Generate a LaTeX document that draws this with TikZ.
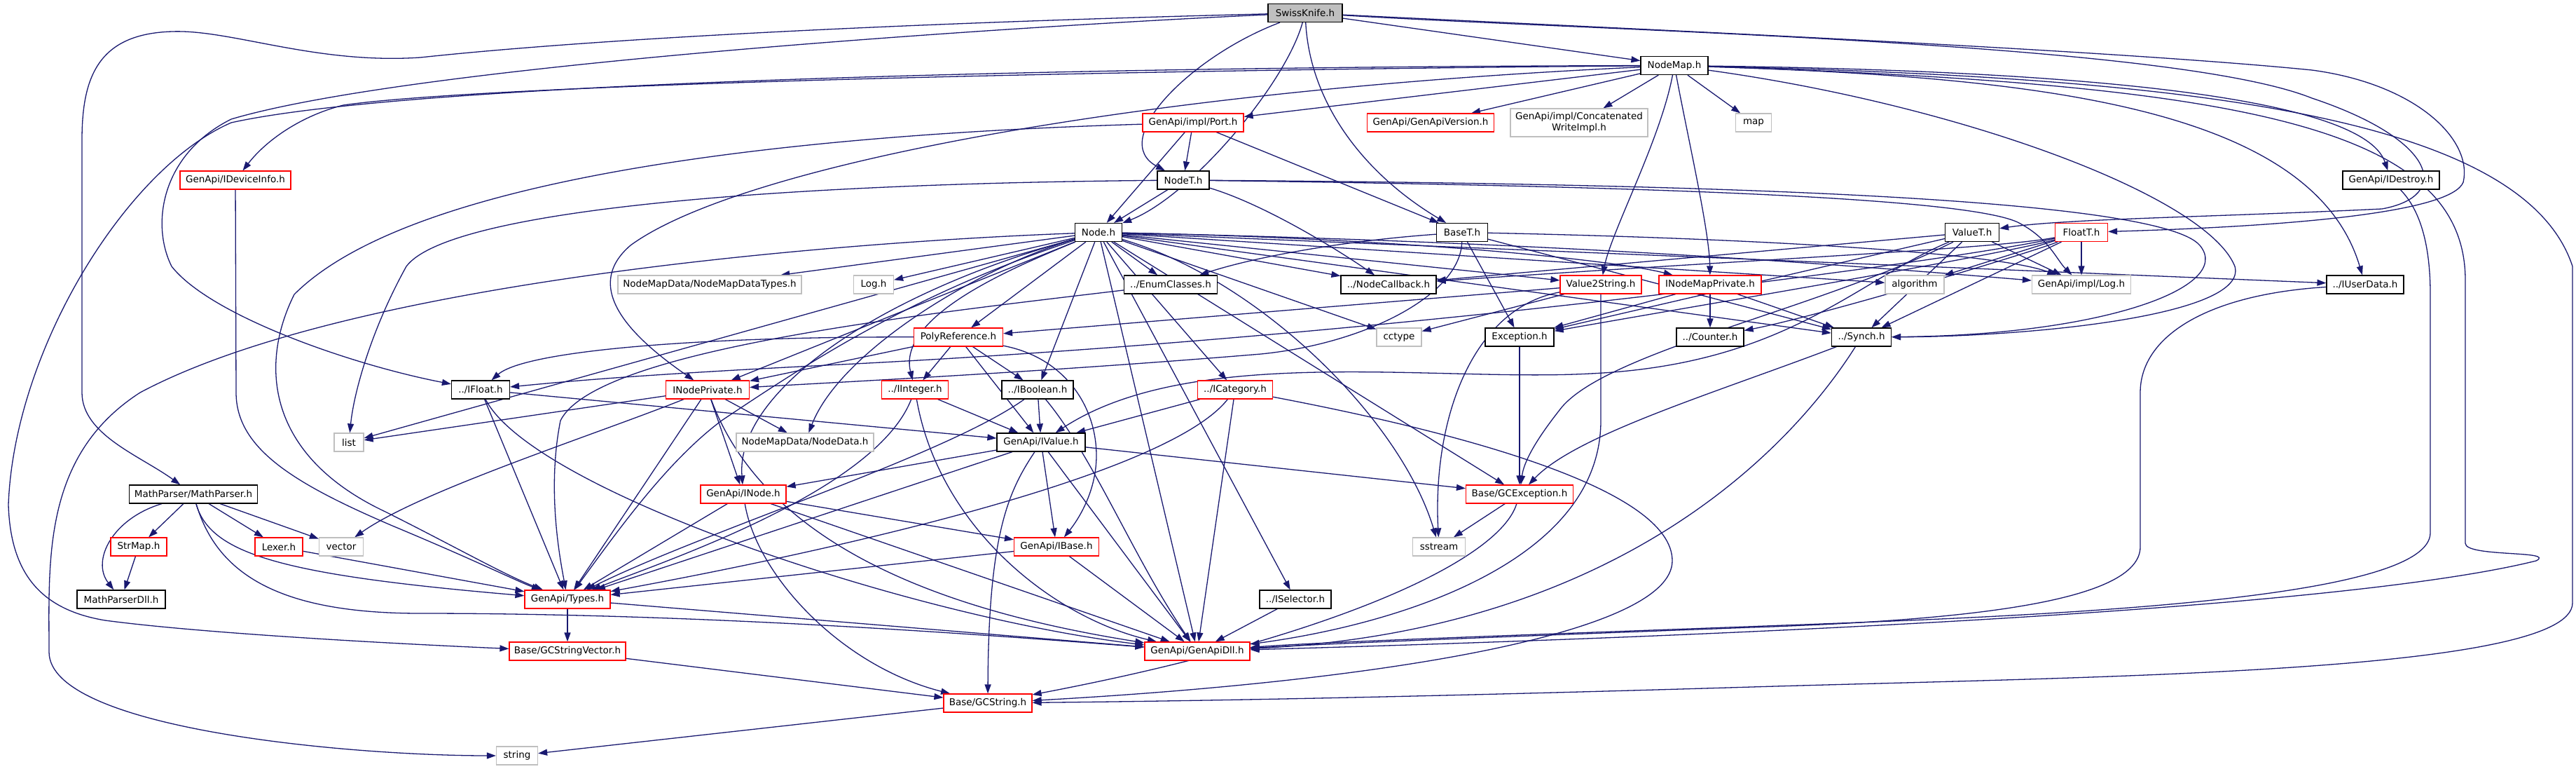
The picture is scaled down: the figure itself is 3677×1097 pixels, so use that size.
\documentclass[tikz,border=0pt]{standalone}
\usepackage{fontspec}
\setmainfont{DejaVu Sans}
\usetikzlibrary{arrows.meta}
\definecolor{edgec}{HTML}{191970}
\definecolor{lgray}{HTML}{BFBFBF}
\pgfdeclarelayer{bg}
\pgfsetlayers{bg,main}
\begin{document}
\begin{tikzpicture}[x=1pt,y=-1pt,
  box/.style={draw=black, line width=1.2pt, fill=white, minimum height=26pt, inner sep=3pt, font=\fontsize{13.5}{15.5}\selectfont},
  rbox/.style={box, draw=red},
  gbox/.style={box, draw=lgray},
  e/.style={draw=edgec, line width=1.3pt, -{Triangle[length=13pt,width=9pt]}}]
\useasboundingbox (0,0) rectangle (3677,1097);
% nodes
\node[box, fill=lgray, minimum width=106pt] (SK) at (1863,18.5) {SwissKnife.h};
\node[box, minimum width=96pt] (NM) at (2390,93.5) {NodeMap.h};
\node[rbox, minimum width=158pt] (IDI) at (336,257) {GenApi/IDeviceInfo.h};
\node[rbox, minimum width=144pt] (Port) at (1703,175) {GenApi/impl/Port.h};
\node[rbox, minimum width=181pt] (GAV) at (2042,175) {GenApi/GenApiVersion.h};
\node[gbox, minimum width=196pt, minimum height=40pt, align=center] (CWI) at (2254,175) {GenApi/impl/Concatenated\\WriteImpl.h};
\node[gbox, minimum width=51pt] (map) at (2503,175) {map};
\node[box, minimum width=74pt] (NodeT) at (1689,257) {NodeT.h};
\node[box, minimum width=138pt] (IDes) at (3413,257) {GenApi/IDestroy.h};
\node[box, minimum width=67pt] (Node) at (1568,331.5) {Node.h};
\node[box, minimum width=73pt] (BaseT) at (2087,331.5) {BaseT.h};
\node[box, minimum width=77pt] (ValueT) at (2815,331.5) {ValueT.h};
\node[rbox, minimum width=75pt] (FloatT) at (2971,331.5) {FloatT.h};
\node[gbox, minimum width=262pt] (NMDT) at (1013,406) {NodeMapData/NodeMapDataTypes.h};
\node[gbox, minimum width=57pt] (LogH) at (1247,406) {Log.h};
\node[box, minimum width=133pt] (Enum) at (1671,406) {../EnumClasses.h};
\node[box, minimum width=136pt] (NCB) at (1982,406) {../NodeCallback.h};
\node[rbox, minimum width=116pt] (V2S) at (2285,406) {Value2String.h};
\node[rbox, minimum width=146pt] (INMP) at (2441,406) {INodeMapPrivate.h};
\node[gbox, minimum width=84pt] (Algo) at (2733,406) {algorithm};
\node[gbox, minimum width=141pt] (ILog) at (2971,406) {GenApi/impl/Log.h};
\node[box, minimum width=110pt] (IUD) at (3376,406) {../IUserData.h};
\node[rbox, minimum width=127pt] (Poly) at (1368,481) {PolyReference.h};
\node[gbox, minimum width=64pt] (cctype) at (1997,481) {cctype};
\node[box, minimum width=98pt] (Exc) at (2169,481) {Exception.h};
\node[box, minimum width=96pt] (Cnt) at (2441,481) {../Counter.h};
\node[box, minimum width=85pt] (Synch) at (2657,481) {../Synch.h};
\node[box, minimum width=83pt] (IFloat) at (686,556) {../IFloat.h};
\node[rbox, minimum width=119pt] (INP) at (1010,556) {INodePrivate.h};
\node[rbox, minimum width=95pt] (IInt) at (1306,556) {../IInteger.h};
\node[box, minimum width=102pt] (IBool) at (1481,556) {../IBoolean.h};
\node[rbox, minimum width=107pt] (ICat) at (1763,556) {../ICategory.h};
\node[gbox, minimum width=42pt] (list) at (498,631) {list};
\node[gbox, minimum width=196pt] (NData) at (1149,631) {NodeMapData/NodeData.h};
\node[box, minimum width=126pt] (IValue) at (1486,631) {GenApi/IValue.h};
\node[box, minimum width=183pt] (MP) at (276,705) {MathParser/MathParser.h};
\node[rbox, minimum width=122pt] (INode) at (1061,705) {GenApi/INode.h};
\node[rbox, minimum width=153pt] (GCE) at (2169,705) {Base/GCException.h};
\node[rbox, minimum width=80pt] (StrMap) at (198,780) {StrMap.h};
\node[rbox, minimum width=68pt] (Lexer) at (398,780) {Lexer.h};
\node[gbox, minimum width=63pt] (vector) at (487,780) {vector};
\node[rbox, minimum width=121pt] (IBase) at (1508,780) {GenApi/IBase.h};
\node[gbox, minimum width=75pt] (sstream) at (2054,780) {sstream};
\node[box, minimum width=126pt] (MPDll) at (173,855) {MathParserDll.h};
\node[rbox, minimum width=122pt] (Types) at (810,855) {GenApi/Types.h};
\node[box, minimum width=102pt] (ISel) at (1849,855) {../ISelector.h};
\node[rbox, minimum width=166pt] (GCSV) at (810,929) {Base/GCStringVector.h};
\node[rbox, minimum width=150pt] (Dll) at (1709,929) {GenApi/GenApiDll.h};
\node[rbox, minimum width=126pt] (GCS) at (1410,1003) {Base/GCString.h};
\node[gbox, minimum width=59pt] (string) at (738,1078) {string};
% edges
\begin{pgfonlayer}{bg}
\fill[white] (0,0) rectangle (3677,1097);
% SwissKnife
\draw[e] (SK) -- (NM);
\draw[e] (SK) .. controls (1870,150) and (1950,250) .. (BaseT);
\draw[e] (SK) .. controls (1835,120) and (1700,280) .. (Node);
\draw[e] (SK) .. controls (1700,80) and (1580,200) .. (NodeT);
\draw[e] (SK) .. controls (1400,30) and (900,50) .. (600,82) .. controls (450,92) and (330,42) .. (246,45) .. controls (140,48) and (117,110) .. (117,200) -- (117,560) .. controls (117,620) and (200,650) .. (MP);
\draw[e] (SK) .. controls (1500,35) and (600,90) .. (330,170) .. controls (230,220) and (215,320) .. (245,380) .. controls (300,450) and (500,520) .. (IFloat);
\draw[e] (SK) .. controls (2300,45) and (3100,60) .. (3300,140) .. controls (3480,200) and (3500,280) .. (3400,298) .. controls (3150,310) and (2950,312) .. (ValueT);
\draw[e] (SK) .. controls (2300,40) and (3000,70) .. (3300,100) .. controls (3450,120) and (3530,200) .. (3516,260) .. controls (3500,300) and (3300,322) .. (FloatT);
% NodeMap
\draw[e] (NM) -- (Port);
\draw[e] (NM) -- (GAV);
\draw[e] (NM) -- (CWI);
\draw[e] (NM) -- (map);
\draw[e] (NM) .. controls (1600,100) and (700,120) .. (490,150) .. controls (430,165) and (380,200) .. (IDI);
\draw[e] (NM) .. controls (1600,95) and (600,115) .. (330,175) .. controls (180,240) and (20,500) .. (12,720) .. controls (15,820) and (60,870) .. (150,885) .. controls (300,905) and (600,920) .. (GCSV);
\draw[e] (NM) .. controls (1600,130) and (1050,240) .. (900,350) .. controls (830,410) and (900,480) .. (INP);
\draw[e] (NM) .. controls (2370,200) and (2300,330) .. (V2S);
\draw[e] (NM) .. controls (2410,200) and (2440,330) .. (INMP);
\draw[e] (NM) .. controls (2900,100) and (3370,130) .. (IDes);
\draw[e] (NM) .. controls (2900,110) and (3300,150) .. (IUD);
\draw[e] (NM) .. controls (2800,150) and (3150,280) .. (3190,380) .. controls (3210,450) and (2900,480) .. (Synch);
\draw[e] (NM) .. controls (3200,120) and (3519,180) .. (3519,400) -- (3519,775) .. controls (3519,795) and (3650,785) .. (3620,800) .. controls (3300,880) and (2200,915) .. (Dll);
\draw[e] (NM) .. controls (3100,110) and (3600,160) .. (3672,380) -- (3672,860) .. controls (3672,960) and (3000,965) .. (2500,980) .. controls (2000,995) and (1700,1000) .. (GCS);
% Port, IDeviceInfo
\draw[e] (Port) -- (NodeT);
\draw[e] (Port) -- (Node);
\draw[e] (Port) -- (BaseT);
\draw[e] (Port) .. controls (1200,190) and (600,240) .. (420,420) .. controls (370,520) and (380,650) .. (550,730) .. controls (650,780) and (720,820) .. (Types);
\draw[e] (IDI) -- (337,560) .. controls (337,640) and (420,690) .. (560,750) .. controls (680,800) and (740,830) .. (Types);
% NodeT
\draw[e] (NodeT) -- (Node);
\draw[e] (NodeT) .. controls (1100,262) and (640,300) .. (580,380) .. controls (530,470) and (505,560) .. (list);
\draw[e] (NodeT) .. controls (1800,290) and (1900,350) .. (NCB);
\draw[e] (NodeT) .. controls (2300,265) and (2800,280) .. (2880,317) .. controls (2925,340) and (2935,370) .. (ILog);
\draw[e] (NodeT) .. controls (2400,262) and (3080,280) .. (3140,350) .. controls (3190,410) and (3000,478) .. (Synch);
% Node
\draw[e] (Node) -- (NMDT);
\draw[e] (Node) -- (LogH);
\draw[e] (Node) -- (Enum);
\draw[e] (Node) -- (NCB);
\draw[e] (Node) -- (V2S);
\draw[e] (Node) .. controls (2000,340) and (2300,370) .. (INMP);
\draw[e] (Node) -- (Algo);
\draw[e] (Node) .. controls (2200,345) and (2600,375) .. (ILog);
\draw[e] (Node) -- (IUD);
\draw[e] (Node) -- (Poly);
\draw[e] (Node) -- (cctype);
\draw[e] (Node) -- (Synch);
\draw[e] (Node) -- (INP);
\draw[e] (Node) .. controls (1450,380) and (1280,450) .. (IInt);
\draw[e] (Node) -- (IBool);
\draw[e] (Node) -- (ICat);
\draw[e] (Node) .. controls (1400,380) and (1200,500) .. (NData);
\draw[e] (Node) -- (ISel);
\draw[e] (Node) -- (GCE);
\draw[e] (Node) .. controls (1800,400) and (2000,600) .. (sstream);
\draw[e] (Node) .. controls (1300,420) and (1150,520) .. (1030,600) .. controls (950,660) and (880,760) .. (Types);
\draw[e] (Node) -- (Dll);
\draw[e] (Node) .. controls (1250,420) and (1050,560) .. (INode);
\draw[e] (Node) -- (list);
\draw[e] (Node) .. controls (1200,345) and (500,400) .. (200,560) .. controls (60,650) and (70,800) .. (70,930) .. controls (70,1040) and (500,1078) .. (string);
% BaseT
\draw[e] (BaseT) .. controls (1900,345) and (1780,370) .. (Enum);
\draw[e] (BaseT) -- (Exc);
\draw[e] (BaseT) .. controls (2085,420) and (1950,490) .. (1800,505) .. controls (1500,530) and (1200,545) .. (INP);
\draw[e] (BaseT) -- (Synch);
\draw[e] (BaseT) .. controls (2500,340) and (2850,360) .. (ILog);
% ValueT
\draw[e] (ValueT) -- (NCB);
\draw[e] (ValueT) -- (Exc);
\draw[e] (ValueT) -- (Synch);
\draw[e] (ValueT) -- (ILog);
\draw[e] (ValueT) .. controls (2600,440) and (2300,500) .. (2230,580) .. controls (2190,630) and (2175,660) .. (GCE);
\draw[e] (ValueT) .. controls (2650,400) and (2550,520) .. (2270,533) .. controls (2050,545) and (1700,490) .. (IValue);
% FloatT
\draw[e] (FloatT) .. controls (2850,355) and (2500,370) .. (NCB);
\draw[e] (FloatT) -- (Algo);
\draw[e] (FloatT) -- (ILog);
\draw[e] (FloatT) .. controls (2850,365) and (2400,440) .. (Exc);
\draw[e] (FloatT) -- (Synch);
\draw[e] (FloatT) .. controls (2900,360) and (2600,450) .. (Cnt);
\draw[e] (FloatT) .. controls (2800,370) and (2000,480) .. (1200,520) .. controls (900,535) and (800,545) .. (IFloat);
% Value2String, INodeMapPrivate
\draw[e] (V2S) -- (cctype);
\draw[e] (V2S) .. controls (2100,440) and (2045,600) .. (sstream);
\draw[e] (V2S) -- (2285,600) .. controls (2285,800) and (2000,890) .. (Dll);
\draw[e] (V2S) -- (Poly);
\draw[e] (INMP) -- (Exc);
\draw[e] (INMP) -- (Cnt);
\draw[e] (INMP) -- (Synch);
\draw[e] (Exc) -- (GCE);
\draw[e] (Synch) .. controls (2450,560) and (2250,620) .. (GCE);
\draw[e] (Synch) .. controls (2550,650) and (2300,900) .. (Dll);
\draw[e] (IUD) .. controls (3150,420) and (3055,480) .. (3055,560) -- (3055,780) .. controls (3055,860) and (2800,885) .. (2500,895) .. controls (2100,910) and (1900,918) .. (Dll);
\draw[e] (IDes) .. controls (3455,300) and (3469,350) .. (3469,420) -- (3469,760) .. controls (3469,850) and (3000,875) .. (2600,890) .. controls (2200,905) and (1900,915) .. (Dll);
% PolyReference
\draw[e] (Poly) .. controls (1000,480) and (750,500) .. (IFloat);
\draw[e] (Poly) -- (INP);
\draw[e] (Poly) -- (IInt);
\draw[e] (Poly) -- (IBool);
\draw[e] (Poly) -- (IValue);
\draw[e] (Poly) .. controls (1520,510) and (1565,580) .. (1565,650) .. controls (1565,700) and (1540,740) .. (IBase);
\draw[e] (Enum) .. controls (1300,450) and (850,500) .. (800,600) .. controls (780,700) and (800,800) .. (Types);
% interfaces
\draw[e] (IFloat) -- (IValue);
\draw[e] (IFloat) -- (Types);
\draw[e] (IFloat) .. controls (760,700) and (1300,880) .. (Dll);
\draw[e] (INP) -- (list);
\draw[e] (INP) .. controls (850,620) and (600,700) .. (vector);
\draw[e] (INP) -- (NData);
\draw[e] (INP) -- (INode);
\draw[e] (INP) -- (Types);
\draw[e] (INP) .. controls (1100,800) and (1400,880) .. (Dll);
\draw[e] (IInt) -- (IValue);
\draw[e] (IInt) .. controls (1250,700) and (950,800) .. (Types);
\draw[e] (IInt) .. controls (1340,750) and (1500,880) .. (Dll);
\draw[e] (IBool) -- (IValue);
\draw[e] (IBool) .. controls (1350,650) and (1000,760) .. (Types);
\draw[e] (IBool) .. controls (1560,650) and (1620,800) .. (Dll);
\draw[e] (ICat) -- (IValue);
\draw[e] (ICat) .. controls (1650,700) and (1000,820) .. (Types);
\draw[e] (ICat) -- (Dll);
\draw[e] (ICat) .. controls (2100,620) and (2387,700) .. (2387,800) .. controls (2387,900) and (2000,970) .. (GCS);
\draw[e] (IValue) -- (INode);
\draw[e] (IValue) -- (Types);
\draw[e] (IValue) -- (IBase);
\draw[e] (IValue) -- (Dll);
\draw[e] (IValue) -- (GCE);
\draw[e] (IValue) .. controls (1440,700) and (1411,760) .. (GCS);
\draw[e] (INode) -- (IBase);
\draw[e] (INode) -- (Types);
\draw[e] (INode) -- (Dll);
\draw[e] (INode) .. controls (1080,820) and (1200,950) .. (GCS);
\draw[e] (IBase) -- (Types);
\draw[e] (IBase) -- (Dll);
% MathParser
\draw[e] (MP) -- (StrMap);
\draw[e] (MP) .. controls (160,740) and (130,800) .. (MPDll);
\draw[e] (MP) -- (Lexer);
\draw[e] (MP) -- (vector);
\draw[e] (MP) .. controls (300,790) and (400,820) .. (Types);
\draw[e] (MP) .. controls (310,820) and (400,875) .. (600,875) .. controls (1000,875) and (1400,905) .. (Dll);
\draw[e] (StrMap) -- (MPDll);
\draw[e] (Lexer) -- (Types);
\draw[e] (Types) -- (GCSV);
\draw[e] (Types) -- (Dll);
\draw[e] (GCSV) -- (GCS);
\draw[e] (GCE) -- (sstream);
\draw[e] (GCE) .. controls (2140,800) and (1900,910) .. (GCS);
\draw[e] (GCS) -- (string);
\draw[e] (ISel) -- (Dll);
\end{pgfonlayer}
\end{tikzpicture}
\end{document}
